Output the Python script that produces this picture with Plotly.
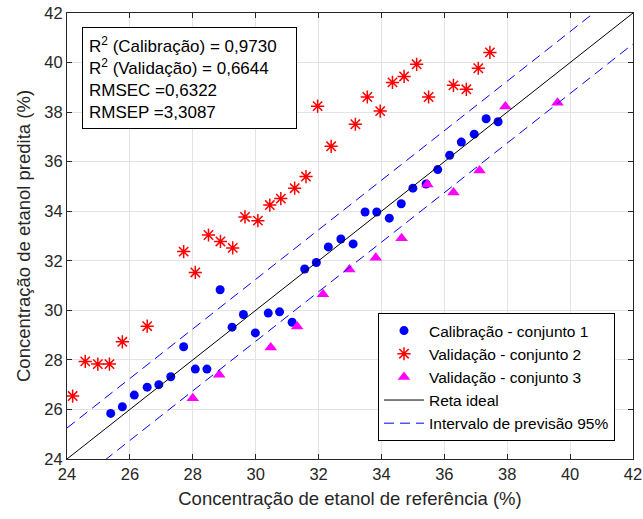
import plotly.graph_objects as go

# Calibração - conjunto 1
cal_x = [25.39, 25.76, 26.14, 26.55, 26.92, 27.30, 27.71, 28.08, 28.45, 28.87, 29.25,
         29.61, 29.99, 30.40, 30.76, 31.16, 31.56, 31.93, 32.31, 32.71, 33.10, 33.48,
         33.85, 34.25, 34.63, 35.00, 35.42, 35.79, 36.17, 36.54, 36.95, 37.33, 37.71]
cal_y = [25.84, 26.11, 26.58, 26.90, 27.00, 27.32, 28.53, 27.63, 27.63, 30.83, 29.32,
         29.83, 29.09, 29.89, 29.94, 29.52, 31.67, 31.93, 32.56, 32.88, 32.68, 33.97,
         33.97, 33.72, 34.30, 34.93, 35.10, 35.68, 36.26, 36.79, 37.11, 37.73, 37.61]

# Validação - conjunto 2
val2_x = [24.18, 24.58, 24.98, 25.35, 25.76, 26.55, 27.71, 28.08, 28.50, 28.88, 29.27,
          29.66, 30.07, 30.45, 30.80, 31.24, 31.60, 31.97, 32.40, 33.17, 33.55, 33.96,
          34.35, 34.72, 35.12, 35.50, 36.29, 36.70, 37.08, 37.45]
val2_y = [26.54, 27.94, 27.83, 27.83, 28.73, 29.36, 32.37, 31.53, 33.04, 32.78, 32.52,
          33.77, 33.62, 34.25, 34.51, 34.93, 35.40, 38.24, 36.62, 37.51, 38.61, 38.04,
          39.20, 39.44, 39.93, 38.61, 39.08, 38.92, 39.77, 40.41]

# Validação - conjunto 3
val3_x = [28.00, 28.84, 30.48, 31.32, 32.14, 32.98, 33.82, 34.64, 35.46, 36.29, 37.12, 37.94, 39.60]
val3_y = [26.45, 27.40, 28.50, 29.35, 30.65, 31.65, 32.12, 32.91, 35.08, 34.76, 35.64, 38.23, 38.38]

ideal_x = [24, 42]
pred_interval = 1.25

x_ticks = [24, 26, 28, 30, 32, 34, 36, 38, 40, 42]
y_ticks = [24, 26, 28, 30, 32, 34, 36, 38, 40, 42]

stats_lines = ["R<sup>2</sup> (Calibração) = 0,9730",
               "R<sup>2</sup> (Validação) = 0,6644",
               "RMSEC =0,6322",
               "RMSEP =3,3087"]

FONT = "Liberation Sans, Arial, sans-serif"
TXT = "#262626"

fig = go.Figure()
fig.add_trace(go.Scatter(x=cal_x, y=cal_y, mode="markers", name="Calibração - conjunto 1",
                         marker=dict(symbol="circle", size=9, color="#0000ff")))
fig.add_trace(go.Scatter(x=val2_x, y=val2_y, mode="markers", name="Validação - conjunto 2",
                         marker=dict(symbol="asterisk-open", size=11, color="#ff0000",
                                     line=dict(color="#ff0000", width=1.5))))
fig.add_trace(go.Scatter(x=val3_x, y=val3_y, mode="markers", name="Validação - conjunto 3",
                         marker=dict(symbol="triangle-up", size=11, color="#ff00ff")))
fig.add_trace(go.Scatter(x=ideal_x, y=ideal_x, mode="lines", name="Reta ideal",
                         line=dict(color="black", width=1)))
fig.add_trace(go.Scatter(x=ideal_x, y=[v + pred_interval for v in ideal_x], mode="lines",
                         name="Intervalo de previsão 95%",
                         line=dict(color="#0000ff", width=1, dash="10px,6px")))
fig.add_trace(go.Scatter(x=ideal_x, y=[v - pred_interval for v in ideal_x], mode="lines",
                         showlegend=False,
                         line=dict(color="#0000ff", width=1, dash="10px,6px")))

axis_common = dict(showgrid=True, gridcolor="#e3e3e3", gridwidth=1, zeroline=False,
                   showline=True, linecolor=TXT, linewidth=1, mirror="allticks",
                   ticks="inside", ticklen=5, tickcolor=TXT, automargin=False,
                   tickfont=dict(family=FONT, size=16.5, color=TXT))

fig.update_xaxes(range=[24, 42], tickvals=x_ticks, ticktext=[str(v) for v in x_ticks],
                 title=dict(text="Concentração de etanol de referência (%)",
                            font=dict(family=FONT, size=18.5, color=TXT), standoff=10),
                 **axis_common)
fig.update_yaxes(range=[24, 42], tickvals=y_ticks, ticktext=[str(v) for v in y_ticks],
                 title=dict(text="Concentração de etanol predita (%)",
                            font=dict(family=FONT, size=18.5, color=TXT), standoff=8),
                 **axis_common)

fig.add_annotation(xref="paper", yref="paper", x=(82 - 67) / 566, y=(459 - 27) / 446,
                   xanchor="left", yanchor="top", align="left", valign="middle",
                   width=201, height=88,
                   text="<br>".join(stats_lines), showarrow=False,
                   font=dict(family=FONT, size=17, color="black"),
                   bordercolor="black", borderwidth=1, borderpad=6, bgcolor="white")

fig.update_layout(
    width=643, height=519,
    margin=dict(l=67, r=10, t=13, b=60, autoexpand=False),
    plot_bgcolor="white", paper_bgcolor="white",
    font=dict(family=FONT, size=15.5, color="black"),
    legend=dict(x=(615 - 67) / 566, y=(459 - 441) / 446, xanchor="right", yanchor="bottom",
                bgcolor="white", bordercolor="black", borderwidth=1,
                font=dict(family=FONT, size=15.5, color="black"),
                tracegroupgap=0, itemwidth=40),
)

fig.write_html("out.html")
